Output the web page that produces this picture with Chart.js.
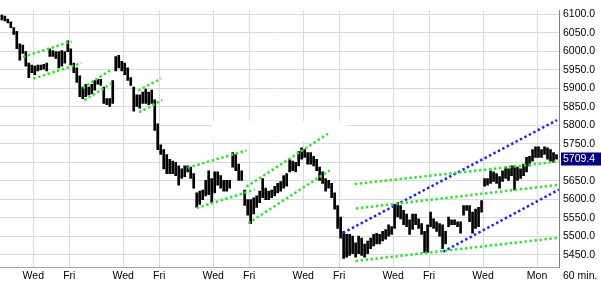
<!DOCTYPE html>
<html>
<head>
<meta charset="utf-8">
<script src="https://cdn.jsdelivr.net/npm/chart.js@4/dist/chart.umd.min.js"></script>
<style>
  html, body { margin: 0; padding: 0; background: #fff; }
  #wrap { width: 601px; height: 284px; }
</style>
</head>
<body>
<div id="wrap"><canvas id="price" width="601" height="284"></canvas></div>
<script>
// 60 min bars, one per trading hour (6 slots per day)
const highs = [
  6098, 6095, 6087, 6080, 6064, 6054, 6020, 6017, 5999, 5968,
  5963, 5960, 5963, 5963, 5965, 5968, 6007, 6002, 5999, 5999,
  6002, 5999, 6028, 6007, 5968, 5955, 5934, 5903, 5911, 5903,
  5911, 5921, 5924, 5924, 5903, 5872, 5872, 5921, 5986, 5989,
  5973, 5968, 5955, 5929, 5903, 5882, 5882, 5890, 5898, 5890,
  5895, 5869, 5804, 5747, 5734, 5721, 5708, 5703, 5700, 5690,
  5682, 5690, 5690, 5687, 5669, 5617, 5622, 5625, 5651, 5677,
  5656, 5674, 5674, 5664, 5651, 5651, 5651, 5726, 5721, 5695,
  5677, 5625, 5599, 5599, 5604, 5609, 5622, 5656, 5630, 5622,
  5625, 5635, 5643, 5648, 5664, 5669, 5708, 5703, 5700, 5729,
  5739, 5734, 5726, 5726, 5716, 5708, 5687, 5674, 5656, 5651,
  5643, 5617, 5583, 5552, 5513, 5505, 5505, 5500, 5482, 5500,
  5495, 5479, 5487, 5495, 5505, 5508, 5505, 5513, 5518, 5531,
  5526, 5586, 5591, 5583, 5570, 5560, 5544, 5560, 5560, 5547,
  5534, 5513, 5531, 5565, 5547, 5539, 5534, 5531, 5513, 5552,
  5544, 5544, 5539, 5539, 5583, 5583, 5583, 5565, 5573, 5578,
  5596, 5656, 5656, 5677, 5674, 5669, 5661, 5677, 5687, 5682,
  5690, 5690, 5687, 5682, 5695, 5713, 5716, 5734, 5742, 5742,
  5734, 5742, 5739, 5734, 5726, 5721
];
const lows = [
  6085, 6082, 6077, 6064, 6046, 6007, 5976, 5994, 5960, 5929,
  5942, 5937, 5947, 5950, 5952, 5947, 5986, 5986, 5981, 5955,
  5960, 5968, 5999, 5963, 5942, 5916, 5877, 5872, 5877, 5882,
  5885, 5895, 5911, 5908, 5859, 5856, 5851, 5859, 5947, 5955,
  5947, 5937, 5921, 5908, 5838, 5851, 5846, 5859, 5859, 5856,
  5859, 5786, 5734, 5721, 5682, 5669, 5669, 5669, 5664, 5638,
  5656, 5661, 5674, 5656, 5630, 5578, 5586, 5599, 5609, 5612,
  5591, 5617, 5638, 5630, 5622, 5622, 5630, 5687, 5677, 5651,
  5651, 5583, 5557, 5534, 5560, 5578, 5591, 5604, 5599, 5599,
  5604, 5609, 5617, 5622, 5630, 5635, 5674, 5677, 5674, 5690,
  5708, 5713, 5695, 5695, 5690, 5677, 5651, 5643, 5622, 5630,
  5604, 5573, 5521, 5495, 5440, 5443, 5448, 5453, 5443, 5453,
  5448, 5443, 5453, 5466, 5474, 5479, 5479, 5487, 5492, 5500,
  5505, 5521, 5552, 5547, 5531, 5526, 5505, 5518, 5531, 5521,
  5505, 5456, 5456, 5526, 5521, 5513, 5500, 5466, 5479, 5526,
  5531, 5531, 5526, 5508, 5557, 5570, 5539, 5508, 5521, 5526,
  5565, 5635, 5638, 5643, 5648, 5643, 5630, 5648, 5656, 5651,
  5664, 5625, 5651, 5656, 5664, 5674, 5690, 5703, 5713, 5713,
  5713, 5721, 5708, 5703, 5700, 5708
];
const lastClose = 5709.4;

// trend lines: [startHour, startPrice, endHour, endPrice]
const greenLines = [
  [8.6, 5985, 24.8, 6027],
  [12.0, 5926, 28.1, 5968],
  [28.5, 5901, 37.6, 5948],
  [29.0, 5868, 38.1, 5913],
  [47.0, 5894, 54.6, 5926],
  [47.3, 5835, 55.0, 5868],
  [63.5, 5685, 83.1, 5732],
  [66.5, 5576, 85.9, 5626],
  [83.1, 5634, 110.3, 5777],
  [83.7, 5535, 110.9, 5678],
  [119.2, 5641, 187.3, 5702],
  [119.6, 5575, 187.3, 5639],
  [119.5, 5433, 187.3, 5496]
];
const blueLines = [
  [115.3, 5509, 186.7, 5814],
  [148.7, 5458, 187.3, 5626]
];

const yTicks = [5450, 5500, 5550, 5600, 5650, 5700, 5750, 5800, 5850, 5900, 5950, 6000, 6050, 6100];
const dayTicks = [12, 24, 42, 54, 72, 84, 102, 114, 132, 144, 162, 180];
const dayLabels = ["Wed", "Fri", "Wed", "Fri", "Wed", "Fri", "Wed", "Fri", "Wed", "Fri", "Wed", "Mon"];

const font = { family: "'Liberation Sans', Arial, sans-serif", size: 10.5 };

const bars = highs.map((h, i) => ({ x: i + 1.5, y: [lows[i], h] }));

function lineSet(l, color) {
  return {
    type: "line",
    data: [{ x: l[0], y: l[1] }, { x: l[2], y: l[3] }],
    borderColor: color,
    borderWidth: 2.5,
    borderDash: [2.5, 2.5],
    pointRadius: 0,
    fill: false,
    order: 1
  };
}

const extras = {
  id: "extras",
  beforeDatasetsDraw(chart) {
    const c = chart.ctx;
    c.save();
    c.fillStyle = "#fff";
    c.fillRect(212, 121, 134, 20);
    c.restore();
  },
  afterDraw(chart) {
    const c = chart.ctx;
    const y = chart.scales.y.getPixelForValue(lastClose);
    c.save();
    c.fillStyle = "#000080";
    c.fillRect(561, Math.round(y) - 6.5, 40, 13);
    c.fillStyle = "#fff";
    c.font = "10.5px 'Liberation Sans', Arial, sans-serif";
    c.textBaseline = "middle";
    c.textAlign = "left";
    c.fillText(lastClose.toFixed(1), 563, Math.round(y));
    c.fillStyle = "#000";
    c.fillText("60 min.", 563, 276);
    c.restore();
  }
};

new Chart(document.getElementById("price"), {
  type: "bar",
  data: {
    datasets: [
      {
        type: "bar",
        data: bars,
        backgroundColor: "#000",
        barThickness: 2,
        grouped: false,
        order: 2
      },
      ...greenLines.map(l => lineSet(l, "#22ee22")),
      ...blueLines.map(l => lineSet(l, "#2222ff"))
    ]
  },
  options: {
    responsive: false,
    animation: false,
    layout: { padding: 0 },
    plugins: { legend: { display: false }, tooltip: { enabled: false } },
    scales: {
      x: {
        type: "linear",
        min: 0.9,
        max: 187.33,
        offset: false,
        grid: { color: "#dadada", drawTicks: false, offset: false },
        border: { color: "#a8a8a8" },
        afterBuildTicks: s => { s.ticks = dayTicks.map(v => ({ value: v })); },
        afterFit: s => { s.height = 17; },
        ticks: {
          callback: v => dayLabels[dayTicks.indexOf(v)],
          font: font,
          color: "#000",
          padding: 3,
          maxRotation: 0,
          autoSkip: false
        }
      },
      y: {
        position: "right",
        min: 5416.7,
        max: 6110.9,
        grid: { color: "#dadada", drawTicks: false },
        border: { color: "#808080" },
        afterBuildTicks: s => { s.ticks = yTicks.map(v => ({ value: v })); },
        afterFit: s => { s.width = 42; },
        ticks: {
          callback: v => v.toFixed(1),
          font: font,
          color: "#000",
          padding: 4
        }
      }
    }
  },
  plugins: [extras]
});
</script>
</body>
</html>
